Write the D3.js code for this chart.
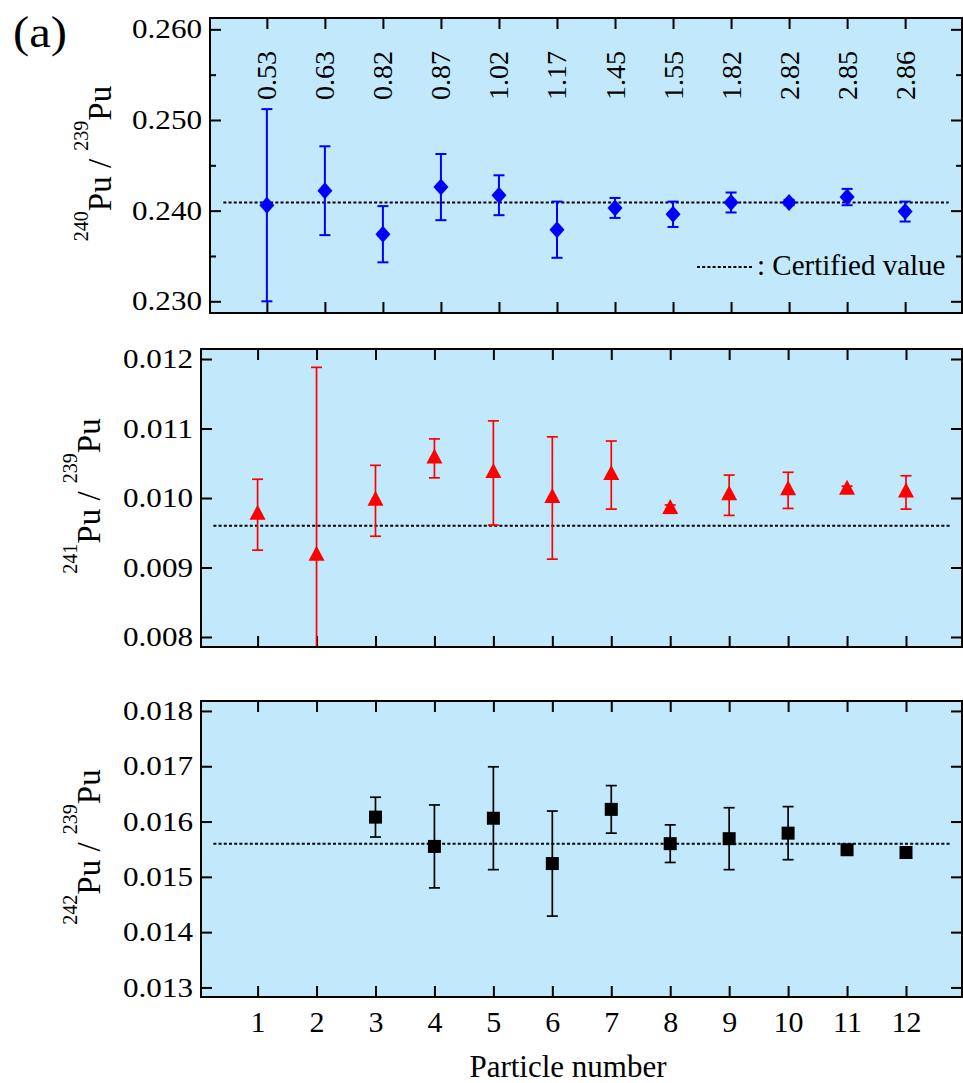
<!DOCTYPE html>
<html>
<head>
<meta charset="utf-8">
<script src="https://cdn.jsdelivr.net/npm/d3@7"></script>
<style>
  body { margin: 0; background: #fff; }
  text { font-family: "Liberation Serif", "Times New Roman", serif; fill: #000; }
</style>
</head>
<body>
<div id="chart"></div>
<script>
/* Data */
const particles = d3.range(1, 13);
const diameters = ['0.53', '0.63', '0.82', '0.87', '1.02', '1.17', '1.45', '1.55', '1.82', '2.82', '2.85', '2.86'];

const pu240 = [0.2406, 0.2422, 0.2374, 0.2426, 0.2417, 0.2379, 0.2403, 0.2396, 0.2409, 0.2409, 0.2415, 0.2399];
const pu240Err = [0.0106, 0.0049, 0.0031, 0.00365, 0.0022, 0.0031, 0.0011, 0.0014, 0.0011, 0.0003, 0.0009, 0.0011];

const pu241 = [0.00976, 0.00917, 0.00996, 0.01057, 0.01036, 0.0100, 0.01033, 0.00984, 0.01004, 0.01011, 0.01012, 0.01008];
const pu241Err = [0.00051, 0.00271, 0.00051, 0.00028, 0.00075, 0.00088, 0.00049, 0.00006, 0.00029, 0.00026, 0.00005, 0.00024];

const pu242 = [null, null, 0.01608, 0.01555, 0.01606, 0.01524, 0.01622, 0.0156, 0.01569, 0.01579, 0.01549, 0.01544];
const pu242Err = [null, null, 0.00036, 0.00075, 0.00093, 0.00095, 0.00043, 0.00034, 0.00056, 0.00048, 0.00008, 0.0001];

const certified = [0.2409, 0.0096, 0.0156];

const ticks240 = [0.23, 0.24, 0.25, 0.26];
const minor240 = [0.235, 0.245, 0.255];
const ticks241 = [0.008, 0.009, 0.01, 0.011, 0.012];
const ticks242 = [0.013, 0.014, 0.015, 0.016, 0.017, 0.018];

const limits240 = [0.22871, 0.26125];
const limits241 = [0.007856, 0.012144];
const limits242 = [0.012827, 0.01818];

/* Canvas */
const width = 963, height = 1083;
const BG = '#c1e9fb';

const svg = d3.select('#chart').append('svg')
  .attr('width', width)
  .attr('height', height);

// Marker shapes
const diamond = 'M0,-8.5L7.5,0L0,8.5L-7.5,0Z';
const triangle = 'M0,-10L8,5L-8,5Z';
const square = 'M-6.5,-6.5H6.5V6.5H-6.5Z';

const panels = [
  { values: pu240, errors: pu240Err, cert: certified[0], ticks: ticks240, minor: minor240,
    limits: limits240, color: '#0000ff', marker: diamond, lw: 2,
    box: { l: 210, r: 962, t: 18, b: 313 }, xLim: [0.02, 12.98], titleX: 111, iso: '240' },
  { values: pu241, errors: pu241Err, cert: certified[1], ticks: ticks241, minor: [],
    limits: limits241, color: '#ff0000', marker: triangle, lw: 1.7,
    box: { l: 201, r: 962, t: 349, b: 647 }, xLim: [0.04, 12.95], titleX: 100, iso: '241' },
  { values: pu242, errors: pu242Err, cert: certified[2], ticks: ticks242, minor: [],
    limits: limits242, color: '#000000', marker: square, lw: 1.7,
    box: { l: 201, r: 962, t: 701, b: 997 }, xLim: [0.04, 12.95], titleX: 100, iso: '242' },
];

panels.forEach((p, idx) => {
  const { l, r, t, b } = p.box;
  const x = d3.scaleLinear().domain(p.xLim).range([l, r]);
  const y = d3.scaleLinear().domain(p.limits).range([b, t]);
  const g = svg.append('g');

  // Background
  g.append('rect')
    .attr('x', l).attr('y', t)
    .attr('width', r - l).attr('height', b - t)
    .attr('fill', BG);

  const clipId = 'clip' + idx;
  svg.append('clipPath').attr('id', clipId)
    .append('rect')
    .attr('x', l).attr('y', t)
    .attr('width', r - l).attr('height', b - t);

  // Axes (ticks inward)
  const styleAxis = (sel) => {
    sel.select('.domain').remove();
    sel.selectAll('line').attr('stroke', '#000').attr('stroke-width', 2);
  };

  g.append('g').attr('transform', `translate(${l},0)`)
    .call(d3.axisLeft(y).tickValues(p.ticks).tickSize(-11).tickPadding(8).tickFormat(d3.format('.3f')))
    .call(styleAxis)
    .call((s) => s.selectAll('text')
      .attr('font-size', 27)
      .attr('font-family', '"Liberation Serif", serif')
      .attr('textLength', 70)
      .attr('lengthAdjust', 'spacingAndGlyphs'));

  g.append('g').attr('transform', `translate(${r},0)`)
    .call(d3.axisRight(y).tickValues(p.ticks).tickSize(-11).tickFormat(''))
    .call(styleAxis);

  if (p.minor.length) {
    g.append('g').attr('transform', `translate(${l},0)`)
      .call(d3.axisLeft(y).tickValues(p.minor).tickSize(-6).tickFormat(''))
      .call(styleAxis);
    g.append('g').attr('transform', `translate(${r},0)`)
      .call(d3.axisRight(y).tickValues(p.minor).tickSize(-6).tickFormat(''))
      .call(styleAxis);
  }

  g.append('g').attr('transform', `translate(0,${t})`)
    .call(d3.axisTop(x).tickValues(particles).tickSize(-11).tickFormat(''))
    .call(styleAxis);

  const bottom = g.append('g').attr('transform', `translate(0,${b})`)
    .call(d3.axisBottom(x).tickValues(particles).tickSize(-11).tickPadding(14)
      .tickFormat(idx === 2 ? d3.format('d') : ''))
    .call(styleAxis);
  bottom.selectAll('text')
    .attr('font-size', 30)
    .attr('font-family', '"Liberation Serif", serif');

  // Certified value line
  g.append('line')
    .attr('x1', x(0.25)).attr('x2', x(12.75))
    .attr('y1', y(p.cert)).attr('y2', y(p.cert))
    .attr('stroke', '#000')
    .attr('stroke-width', 2)
    .attr('stroke-dasharray', '3,2.2');

  // Error bars + markers
  const pts = particles
    .map((n, i) => ({ n, v: p.values[i], e: p.errors[i] }))
    .filter((d) => d.v != null);

  const eb = g.append('g').attr('clip-path', `url(#${clipId})`)
    .attr('stroke', p.color).attr('stroke-width', p.lw).attr('fill', 'none');
  pts.forEach((d) => {
    const cx = x(d.n), y0 = y(d.v - d.e), y1 = y(d.v + d.e);
    eb.append('line').attr('x1', cx).attr('x2', cx).attr('y1', y0).attr('y2', y1);
    eb.append('line').attr('x1', cx - 5.5).attr('x2', cx + 5.5).attr('y1', y0).attr('y2', y0);
    eb.append('line').attr('x1', cx - 5.5).attr('x2', cx + 5.5).attr('y1', y1).attr('y2', y1);
  });

  g.append('g').selectAll('path')
    .data(pts)
    .join('path')
    .attr('d', p.marker)
    .attr('transform', (d) => `translate(${x(d.n)},${y(d.v)})`)
    .attr('fill', p.color);

  // Frame
  g.append('rect')
    .attr('x', l).attr('y', t)
    .attr('width', r - l).attr('height', b - t)
    .attr('fill', 'none')
    .attr('stroke', '#000')
    .attr('stroke-width', 2);

  // Y title: xxxPu / 239Pu
  const title = g.append('text')
    .attr('transform', `translate(${p.titleX},${(t + b) / 2 - 2}) rotate(-90)`)
    .attr('text-anchor', 'middle')
    .attr('font-size', 33);
  title.append('tspan').attr('font-size', 20).attr('dy', -23).text(p.iso);
  title.append('tspan').attr('dy', 23).text('Pu / ');
  title.append('tspan').attr('font-size', 20).attr('dy', -23).text('239');
  title.append('tspan').attr('dy', 23).text('Pu');

  // Particle sizes above panel 1
  if (idx === 0) {
    g.append('g').selectAll('text')
      .data(particles)
      .join('text')
      .attr('transform', (d) => `translate(${x(d) + 9.5},100) rotate(-90)`)
      .attr('font-size', 28)
      .text((d, i) => diameters[i]);

    // Legend
    g.append('line')
      .attr('x1', 697).attr('x2', 753)
      .attr('y1', 267).attr('y2', 267)
      .attr('stroke', '#000')
      .attr('stroke-width', 2)
      .attr('stroke-dasharray', '3,2.2');
    g.append('text')
      .attr('x', 757).attr('y', 275)
      .attr('font-size', 29)
      .text(': Certified value');
  }
});

// Panel label and x title
svg.append('text')
  .attr('x', 13).attr('y', 47)
  .attr('font-size', 44)
  .attr('textLength', 54)
  .attr('lengthAdjust', 'spacingAndGlyphs')
  .text('(a)');

svg.append('text')
  .attr('x', 568).attr('y', 1077)
  .attr('text-anchor', 'middle')
  .attr('font-size', 31)
  .text('Particle number');
</script>
</body>
</html>
